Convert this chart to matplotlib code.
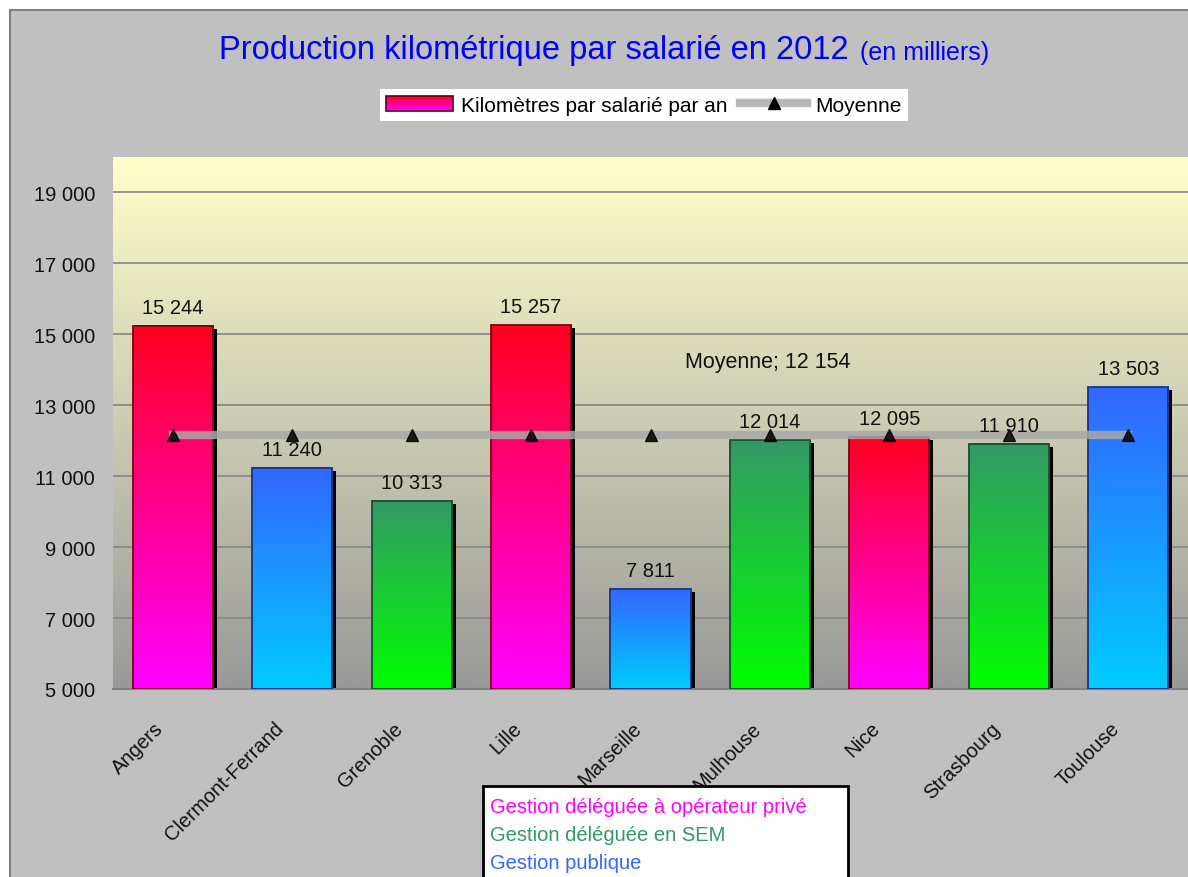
import numpy as np
import matplotlib
matplotlib.use("Agg")
import matplotlib.pyplot as plt
import matplotlib.transforms as mtransforms
from matplotlib.patches import Rectangle
from matplotlib.lines import Line2D
from matplotlib.legend_handler import HandlerBase
from matplotlib.colors import to_rgb

plt.rcParams['font.family'] = ['Liberation Sans', 'DejaVu Sans']

# data
villes = ["Angers", "Clermont-Ferrand", "Grenoble", "Lille", "Marseille",
          "Mulhouse", "Nice", "Strasbourg", "Toulouse"]
km = [15244, 11240, 10313, 15257, 7811, 12014, 12095, 11910, 13503]
gestion = ["prive", "public", "sem", "prive", "public", "sem", "prive", "sem", "public"]
moyenne = 12154
yticks = [5000, 7000, 9000, 11000, 13000, 15000, 17000, 19000]

grads = {"prive": ("#FF0020", "#FF00FF"),
         "public": ("#3366FF", "#00CCFF"),
         "sem": ("#339966", "#00FF00")}
edges = {"prive": "#7F0010", "public": "#1A337F", "sem": "#1A4D33"}


def fmt(v):
    return f"{v:,}".replace(",", " ")


def gradient(top, bottom, n=128):
    t = np.linspace(0, 1, n)[:, None, None]
    a = np.array(to_rgb(top))[None, None, :]
    b = np.array(to_rgb(bottom))[None, None, :]
    return a * (1 - t) + b * t


class GradHandler(HandlerBase):
    def create_artists(self, legend, orig_handle, xdescent, ydescent,
                       width, height, fontsize, trans):
        arts = []
        n = 10
        cols = gradient(grads["prive"][0], grads["prive"][1], n)[:, 0, :]
        for k in range(n):
            y = -ydescent + height * (1 - (k + 1) / n)
            arts.append(Rectangle((-xdescent, y), width, height / n,
                                  facecolor=cols[k], edgecolor="none", transform=trans))
        arts.append(Rectangle((-xdescent, -ydescent), width, height, facecolor="none",
                              edgecolor="#5a0020", lw=1.2, transform=trans))
        return arts


W, H = 1188, 878
fig = plt.figure(figsize=(W / 100, H / 100), dpi=100)
fig.patch.set_facecolor("white")
fig.patches.append(Rectangle((10 / W, -0.1), 1.1, (H - 11) / H + 0.1,
                             transform=fig.transFigure, facecolor="#C0C0C0",
                             edgecolor="#808080", lw=1.5, zorder=-10))

ax = fig.add_axes([113 / W, (H - 690) / H, (W - 113) / W, (690 - 158) / H])
ax.patch.set_visible(False)

# plot area background
ax.imshow(gradient("#FFFFCC", "#999999"), extent=[0, 1, 0, 1], transform=ax.transAxes,
          aspect="auto", zorder=0, interpolation="bilinear")

x = np.arange(len(villes))
w = 0.67
shadow = ax.transData + mtransforms.ScaledTranslation(4 / 100, -3 / 100, fig.dpi_scale_trans)
for i, (v, g) in enumerate(zip(km, gestion)):
    ax.add_patch(Rectangle((i - w / 2, yticks[0] - 500), w, v - yticks[0] + 500,
                           facecolor="black", edgecolor="none", transform=shadow, zorder=2))
    ax.imshow(gradient(*grads[g]), extent=[i - w / 2, i + w / 2, yticks[0], v],
              aspect="auto", zorder=3, interpolation="bilinear")
    ax.add_patch(Rectangle((i - w / 2, yticks[0]), w, v - yticks[0], facecolor="none",
                           edgecolor=edges[g], lw=1.3, zorder=3.5))
    ax.annotate(fmt(v), (i, v), xytext=(0, 9), textcoords="offset pixels",
                ha="center", va="bottom", fontsize=14.5, color="#111111", zorder=6)

ax.plot(x, [moyenne] * len(x), color="#A8A8A8", lw=6, alpha=0.85, zorder=4,
        marker="^", mfc="black", mec="black", ms=9)
ax.annotate("Moyenne; " + fmt(moyenne), (5, moyenne), xytext=(-2, 74),
            textcoords="offset pixels", ha="center", va="center", fontsize=15.5,
            color="#111111", zorder=6)

ax.set_xlim(-0.5, len(villes) - 0.5)
ax.set_ylim(5000, 20000)
ax.set_yticks(yticks)
ax.set_yticklabels([fmt(t) for t in yticks], fontsize=14.5, color="#111111")
ax.set_xticks(x)
ax.set_xticklabels([])

# category labels, rotated
lab_tr = (mtransforms.blended_transform_factory(ax.transData, ax.transAxes)
          + mtransforms.ScaledTranslation(-12 / 100, -36 / 100, fig.dpi_scale_trans))
for i, nom in enumerate(villes):
    ax.text(i, 0, nom, transform=lab_tr, rotation=45, rotation_mode="anchor",
            ha="right", va="center", fontsize=14.5, color="#111111", clip_on=False)

ax.tick_params(axis="x", length=0)
ax.tick_params(axis="y", length=0, pad=13)
ax.grid(axis="y", color="#858585", lw=1.2, zorder=1)
ax.set_axisbelow(True)
for s in ["left", "right", "top"]:
    ax.spines[s].set_visible(False)
ax.spines["bottom"].set_color("#808080")
ax.spines["bottom"].set_linewidth(1.5)

# title
fig.text(219 / W, 1 - 50 / H, "Production kilométrique par salarié en 2012",
         fontsize=23.5, color="#0000FF", ha="left", va="center")
fig.text(860 / W, 1 - 53 / H, "(en milliers)", fontsize=18, color="#0000FF",
         ha="left", va="center")

# legend
h1 = Rectangle((0, 0), 1, 1)
h2 = Line2D([], [], color="#B8B8B8", lw=6, marker="^", mfc="black", mec="black", ms=9)
leg = fig.legend([h1, h2], ["Kilomètres par salarié par an", "Moyenne"],
                 handler_map={Rectangle: GradHandler()}, loc="center",
                 bbox_to_anchor=(644 / W, 1 - 106 / H), ncol=2, fontsize=15,
                 frameon=True, fancybox=False, framealpha=1, edgecolor="white",
                 handlelength=3.2, handleheight=0.75, handletextpad=0.4,
                 columnspacing=0.6, borderpad=0.3, borderaxespad=0)
leg.get_frame().set_linewidth(0)

# management type box
fig.patches.append(Rectangle((483 / W, -0.05), (848 - 483) / W, 0.05 + (H - 787) / H,
                             transform=fig.transFigure, facecolor="white",
                             edgecolor="black", lw=2, zorder=5))
for txt, col, yy in [("Gestion déléguée à opérateur privé", "#FF00FF", 808),
                     ("Gestion déléguée en SEM", "#339966", 836),
                     ("Gestion publique", "#3366FF", 864)]:
    fig.text(490 / W, 1 - yy / H, txt, color=col, fontsize=14.5, ha="left",
             va="center", zorder=6)

fig.savefig("out.png", dpi=100)
